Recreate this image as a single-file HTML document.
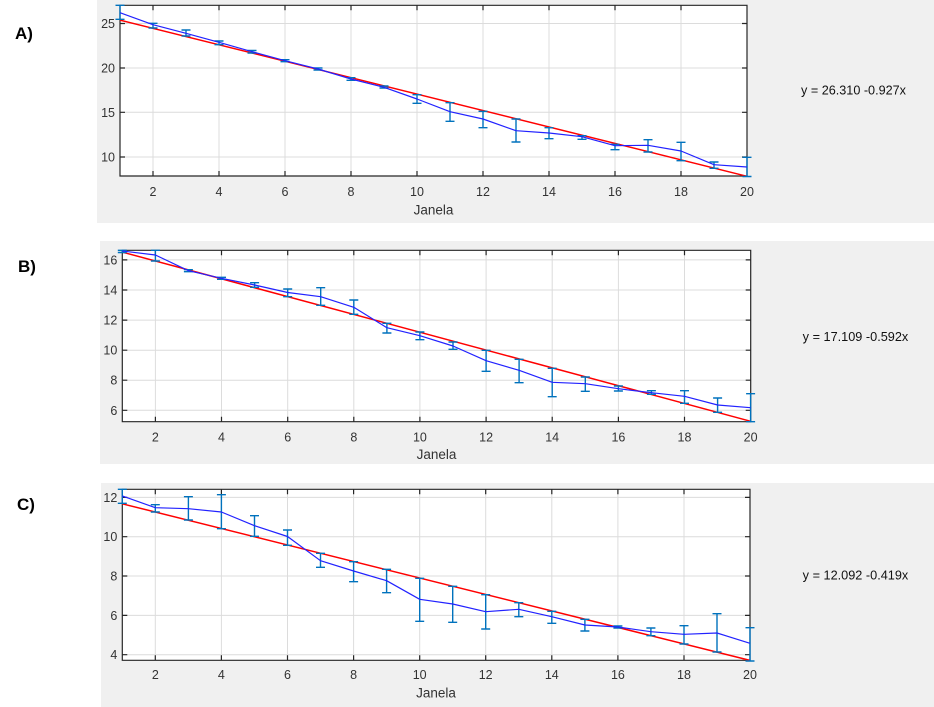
<!DOCTYPE html>
<html><head><meta charset="utf-8"><style>
html,body{margin:0;padding:0;background:#fff;}
svg{display:block;font-family:"Liberation Sans",Arial,sans-serif;}
.tk{font-size:12.5px;fill:#333;}
.xl{font-size:13.5px;fill:#333;}
.eq{font-size:12.5px;fill:#111;}
.lab{font-size:17px;font-weight:bold;fill:#000;}
.grid{stroke:#dcdcdc;stroke-width:1;fill:none;}
.ax{stroke:#262626;stroke-width:1.2;fill:none;}
.red{stroke:#ff0000;stroke-width:1.5;fill:none;}
.eb{stroke:#0072BD;stroke-width:1.4;fill:none;}
.bl{stroke:#2222ff;stroke-width:1.2;fill:none;stroke-linejoin:round;}
</style></head><body>
<svg width="934" height="707" viewBox="0 0 934 707" xmlns="http://www.w3.org/2000/svg">
<rect x="0" y="0" width="934" height="707" fill="#fff"/>
<!-- gray panels -->
<rect x="97" y="0" width="837" height="223" fill="#f0f0f0"/>
<rect x="100" y="241" width="834" height="223" fill="#f0f0f0"/>
<rect x="101" y="483" width="833" height="224" fill="#f0f0f0"/>

<!-- labels -->
<text class="lab" x="15" y="39">A)</text>
<text class="lab" x="18" y="272">B)</text>
<text class="lab" x="17" y="510">C)</text>

<!-- ================= PANEL A ================= -->
<rect x="120" y="5.3" width="627" height="170.7" fill="#fff"/>
<path class="grid" d="M153 5.3V176M219 5.3V176M285 5.3V176M351 5.3V176M417 5.3V176M483 5.3V176M549 5.3V176M615 5.3V176M681 5.3V176
M120 23.5H747M120 68H747M120 112.3H747M120 157H747"/>
<path class="ax" d="M120 5.3H747V176H120Z
M153 176v-5M219 176v-5M285 176v-5M351 176v-5M417 176v-5M483 176v-5M549 176v-5M615 176v-5M681 176v-5
M153 5.3v5M219 5.3v5M285 5.3v5M351 5.3v5M417 5.3v5M483 5.3v5M549 5.3v5M615 5.3v5M681 5.3v5
M120 23.5h5M120 68h5M120 112.3h5M120 157h5
M747 23.5h-5M747 68h-5M747 112.3h-5M747 157h-5"/>
<path class="red" d="M120 20.1L747 176.3"/>
<path class="eb" d="M115.5 5.3h9M120 5.3V19.3M115.5 19.3h9
M148.5 23.3h9M153 23.3V28M148.5 28h9
M181.5 30h9M186 30V36M181.5 36h9
M214.5 41h9M219 41V44.7M214.5 44.7h9
M247.5 50.5h9M252 50.5V53M247.5 53h9
M280.5 59.7h9M285 59.7V61.7M280.5 61.7h9
M313.5 68h9M318 68V70M313.5 70h9
M346.5 77.7h9M351 77.7V80.3M346.5 80.3h9
M379.5 86h9M384 86V88M379.5 88h9
M412.5 94.7h9M417 94.7V103.3M412.5 103.3h9
M445.5 102.7h9M450 102.7V121.3M445.5 121.3h9
M478.5 111.3h9M483 111.3V127.7M478.5 127.7h9
M511.5 119h9M516 119V142M511.5 142h9
M544.5 127.7h9M549 127.7V138.7M544.5 138.7h9
M577.5 135.7h9M582 135.7V139.3M577.5 139.3h9
M610.5 144.3h9M615 144.3V149.7M610.5 149.7h9
M643.5 139.7h9M648 139.7V152M643.5 152h9
M676.5 142.3h9M681 142.3V160.7M676.5 160.7h9
M709.5 162h9M714 162V168.3M709.5 168.3h9
M742.5 157.3h9M747 157.3V176.5M742.5 176.5h9"/>
<path class="bl" d="M120 12.7L153 24.7L186 33.3L219 42.3L252 51.7L285 60.7L318 69L351 79L384 87.3L417 99L450 111.7L483 119L516 130.7L549 133L582 136.7L615 145.7L648 145.3L681 151L714 164.7L747 167"/>
<g class="tk" text-anchor="end">
<text x="115" y="28">25</text><text x="115" y="72.5">20</text><text x="115" y="116.8">15</text><text x="115" y="161.5">10</text>
</g>
<g class="tk" text-anchor="middle">
<text x="153" y="196">2</text><text x="219" y="196">4</text><text x="285" y="196">6</text><text x="351" y="196">8</text><text x="417" y="196">10</text><text x="483" y="196">12</text><text x="549" y="196">14</text><text x="615" y="196">16</text><text x="681" y="196">18</text><text x="747" y="196">20</text>
</g>
<text class="xl" x="433.5" y="214.5" text-anchor="middle">Janela</text>
<text class="eq" x="801" y="94.5" textLength="105" lengthAdjust="spacingAndGlyphs">y = 26.310 -0.927x</text>

<!-- ================= PANEL B ================= -->
<rect x="122.3" y="250.3" width="628.4" height="171.4" fill="#fff"/>
<path class="grid" d="M155.4 250.3V421.7M221.5 250.3V421.7M287.7 250.3V421.7M353.8 250.3V421.7M419.9 250.3V421.7M486.1 250.3V421.7M552.2 250.3V421.7M618.4 250.3V421.7M684.5 250.3V421.7
M122.3 259.9H750.7M122.3 290H750.7M122.3 320.1H750.7M122.3 350.2H750.7M122.3 380.2H750.7M122.3 410.3H750.7"/>
<path class="ax" d="M122.3 250.3H750.7V421.7H122.3Z
M155.4 421.7v-5M221.5 421.7v-5M287.7 421.7v-5M353.8 421.7v-5M419.9 421.7v-5M486.1 421.7v-5M552.2 421.7v-5M618.4 421.7v-5M684.5 421.7v-5
M155.4 250.3v5M221.5 250.3v5M287.7 250.3v5M353.8 250.3v5M419.9 250.3v5M486.1 250.3v5M552.2 250.3v5M618.4 250.3v5M684.5 250.3v5
M122.3 259.9h5M122.3 290h5M122.3 320.1h5M122.3 350.2h5M122.3 380.2h5M122.3 410.3h5
M750.7 259.9h-5M750.7 290h-5M750.7 320.1h-5M750.7 350.2h-5M750.7 380.2h-5M750.7 410.3h-5"/>
<path class="red" d="M122.3 252.1L750.7 421.3"/>
<path class="eb" d="M117.8 250.3h9M122.3 250.3V252.5M117.8 252.5h9
M150.9 250.3h9M155.4 250.3V261M150.9 261h9
M183.9 269.7h9M188.4 269.7V271.7M183.9 271.7h9
M217 277.3h9M221.5 277.3V279.3M217 279.3h9
M250.1 282.7h9M254.6 282.7V287.3M250.1 287.3h9
M283.2 289h9M287.7 289V296.7M283.2 296.7h9
M316.2 287.7h9M320.7 287.7V305.3M316.2 305.3h9
M349.3 300h9M353.8 300V314.3M349.3 314.3h9
M382.4 323.3h9M386.9 323.3V333M382.4 333h9
M415.4 332h9M419.9 332V339.7M415.4 339.7h9
M448.5 342h9M453 342V349.3M448.5 349.3h9
M481.6 350.3h9M486.1 350.3V371.3M481.6 371.3h9
M514.6 359.3h9M519.1 359.3V382.7M514.6 382.7h9
M547.7 368.3h9M552.2 368.3V396.7M547.7 396.7h9
M580.8 377h9M585.3 377V391.3M580.8 391.3h9
M613.9 386h9M618.4 386V391M613.9 391h9
M646.9 390.7h9M651.4 390.7V394.3M646.9 394.3h9
M680 390.7h9M684.5 390.7V403.3M680 403.3h9
M713.1 398h9M717.6 398V412.3M713.1 412.3h9
M746.1 393.7h9M750.6 393.7V421.7M746.1 421.7h9"/>
<path class="bl" d="M122.3 251L155.4 255L188.4 270.7L221.5 278.3L254.6 285L287.7 292.5L320.7 296.7L353.8 307.3L386.9 327.7L419.9 335.7L453 346L486.1 360.7L519.1 370.3L552.2 382.3L585.3 383.7L618.4 388.7L651.4 392.7L684.5 396.3L717.6 405L750.6 407.7"/>
<g class="tk" text-anchor="end">
<text x="117.3" y="264.4">16</text><text x="117.3" y="294.5">14</text><text x="117.3" y="324.6">12</text><text x="117.3" y="354.7">10</text><text x="117.3" y="384.7">8</text><text x="117.3" y="414.8">6</text>
</g>
<g class="tk" text-anchor="middle">
<text x="155.4" y="441.5">2</text><text x="221.5" y="441.5">4</text><text x="287.7" y="441.5">6</text><text x="353.8" y="441.5">8</text><text x="419.9" y="441.5">10</text><text x="486.1" y="441.5">12</text><text x="552.2" y="441.5">14</text><text x="618.4" y="441.5">16</text><text x="684.5" y="441.5">18</text><text x="750.6" y="441.5">20</text>
</g>
<text class="xl" x="436.5" y="459" text-anchor="middle">Janela</text>
<text class="eq" x="802.7" y="341" textLength="105.6" lengthAdjust="spacingAndGlyphs">y = 17.109 -0.592x</text>

<!-- ================= PANEL C ================= -->
<rect x="122.3" y="489.3" width="627.7" height="171" fill="#fff"/>
<path class="grid" d="M155.3 489.3V660.3M221.4 489.3V660.3M287.5 489.3V660.3M353.6 489.3V660.3M419.7 489.3V660.3M485.7 489.3V660.3M551.8 489.3V660.3M617.9 489.3V660.3M684 489.3V660.3
M122.3 497.4H750M122.3 536.7H750M122.3 576H750M122.3 615.4H750M122.3 654.7H750"/>
<path class="ax" d="M122.3 489.3H750V660.3H122.3Z
M155.3 660.3v-5M221.4 660.3v-5M287.5 660.3v-5M353.6 660.3v-5M419.7 660.3v-5M485.7 660.3v-5M551.8 660.3v-5M617.9 660.3v-5M684 660.3v-5
M155.3 489.3v5M221.4 489.3v5M287.5 489.3v5M353.6 489.3v5M419.7 489.3v5M485.7 489.3v5M551.8 489.3v5M617.9 489.3v5M684 489.3v5
M122.3 497.4h5M122.3 536.7h5M122.3 576h5M122.3 615.4h5M122.3 654.7h5
M750 497.4h-5M750 536.7h-5M750 576h-5M750 615.4h-5M750 654.7h-5"/>
<path class="red" d="M122.3 503.8L750 660.4"/>
<path class="eb" d="M117.8 489.3h9M122.3 489.3V503.3M117.8 503.3h9
M150.8 504.7h9M155.3 504.7V512M150.8 512h9
M183.9 496.7h9M188.4 496.7V520M183.9 520h9
M216.9 494.7h9M221.4 494.7V528.7M216.9 528.7h9
M250 515.7h9M254.5 515.7V536.3M250 536.3h9
M283 530h9M287.5 530V545.3M283 545.3h9
M316 553.3h9M320.5 553.3V567.3M316 567.3h9
M349.1 561.7h9M353.6 561.7V581.7M349.1 581.7h9
M382.1 569.3h9M386.6 569.3V592.7M382.1 592.7h9
M415.2 578.3h9M419.7 578.3V621.3M415.2 621.3h9
M448.2 586.3h9M452.7 586.3V622.3M448.2 622.3h9
M481.2 594.7h9M485.7 594.7V629M481.2 629h9
M514.3 602.7h9M518.8 602.7V616.7M514.3 616.7h9
M547.3 611.3h9M551.8 611.3V623.3M547.3 623.3h9
M580.4 619.3h9M584.9 619.3V631M580.4 631h9
M613.4 626h9M617.9 626V628M613.4 628h9
M646.4 628h9M650.9 628V635.7M646.4 635.7h9
M679.5 625.7h9M684 625.7V644M679.5 644h9
M712.5 613.7h9M717 613.7V652M712.5 652h9
M745.5 627.7h9M750 627.7V661M745.5 661h9"/>
<path class="bl" d="M122.3 496L155.3 507.7L188.4 508.7L221.4 512L254.5 525.7L287.5 536.5L320.5 560.7L353.6 571L386.6 580.7L419.7 599.3L452.7 604L485.7 611.7L518.8 609.3L551.8 616.7L584.9 625L617.9 627L650.9 631.7L684 634.3L717 633L750 643.3"/>
<g class="tk" text-anchor="end">
<text x="117.3" y="501.9">12</text><text x="117.3" y="541.2">10</text><text x="117.3" y="580.5">8</text><text x="117.3" y="619.9">6</text><text x="117.3" y="659.2">4</text>
</g>
<g class="tk" text-anchor="middle">
<text x="155.3" y="678.8">2</text><text x="221.4" y="678.8">4</text><text x="287.5" y="678.8">6</text><text x="353.6" y="678.8">8</text><text x="419.7" y="678.8">10</text><text x="485.7" y="678.8">12</text><text x="551.8" y="678.8">14</text><text x="617.9" y="678.8">16</text><text x="684" y="678.8">18</text><text x="750" y="678.8">20</text>
</g>
<text class="xl" x="436" y="697.4" text-anchor="middle">Janela</text>
<text class="eq" x="802.7" y="579.6" textLength="105.6" lengthAdjust="spacingAndGlyphs">y = 12.092 -0.419x</text>
</svg>
</body></html>
